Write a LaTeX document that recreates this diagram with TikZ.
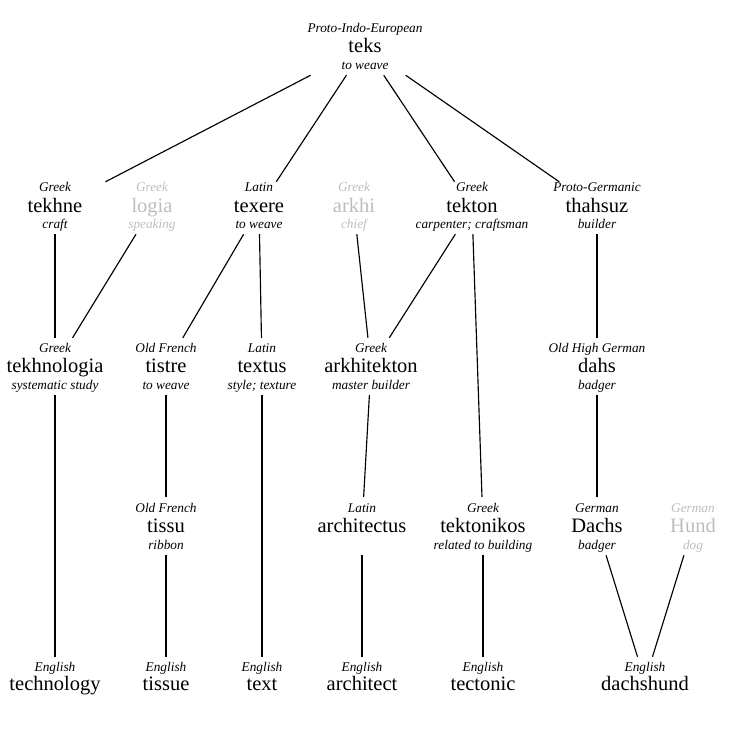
\documentclass[tikz,border=0pt]{standalone}
\usepackage{fontspec}
\setmainfont{Liberation Serif}
\definecolor{faded}{HTML}{BDBDBD}
\tikzset{
  box/.style={draw=none,minimum width=120pt,inner sep=0pt},
  lab/.style={font=\fontsize{13.3}{15}\selectfont\itshape,inner sep=0pt,anchor=base},
  word/.style={font=\fontsize{20.5}{24}\selectfont,inner sep=0pt,anchor=base},
  link/.style={draw=black,line width=1.15pt}
}
% box extent relative to the word row: \bt above, \bb below
\def\bt{28}\def\bb{28}
\newcommand\etymbox[3]{%
  \pgfmathsetmacro\boxc{#3+(\bb-\bt)/2}%
  \pgfmathsetmacro\boxh{\bb+\bt}%
  \node[box,minimum height=\boxh pt] (#1) at (#2,\boxc) {};
}
\newcommand\etym[7]{%
  \etymbox{#1}{#2}{#3}%
  \node[lab,text=#7] (#1-l) at (#2,#3-14) {#4};
  \node[word,text=#7] (#1-w) at (#2,#3+6) {#5};
  \node[lab,text=#7] (#1-g) at (#2,#3+23) {#6};
}
\newcommand\etymend[5]{%
  \etymbox{#1}{#2}{#3}%
  \node[lab,text=#5] (#1-l) at (#2,#3-14) {#4};
  \node[word,text=#5] (#1-w) at (#2,#3+5) {#1};
}
\begin{document}
\begin{tikzpicture}[x=1pt,y=-1pt]
\useasboundingbox (0,0) rectangle (734,733);
% top
\def\bt{28}\def\bb{28}
\etym{teks}{365}{47}{Proto-Indo-European}{teks}{to weave}{black}
% row 1
\def\bt{24}\def\bb{28}
\etym{tekhne}{55}{206}{Greek}{tekhne}{craft}{black}
\etym{logia}{152}{206}{Greek}{logia}{speaking}{faded}
\etym{texere}{259}{206}{Latin}{texere}{to weave}{black}
\etym{arkhi}{354}{206}{Greek}{arkhi}{chief}{faded}
\etym{tekton}{472}{206}{Greek}{tekton}{carpenter; craftsman}{black}
\etym{thahsuz}{597}{206}{Proto-Germanic}{thahsuz}{builder}{black}
% row 2
\def\bt{28}\def\bb{29}
\etym{tekhnologia}{55}{366}{Greek}{tekhnologia}{systematic study}{black}
\etym{tistre}{166}{366}{Old French}{tistre}{to weave}{black}
\etym{textus}{262}{366}{Latin}{textus}{style; texture}{black}
\etym{arkhitekton}{371}{366}{Greek}{arkhitekton}{master builder}{black}
\etym{dahs}{597}{366}{Old High German}{dahs}{badger}{black}
% row 3
\def\bt{29}\def\bb{29}
\etym{tissu}{166}{526}{Old French}{tissu}{ribbon}{black}
\etym{architectus}{362}{526}{Latin}{architectus}{}{black}
\etym{tektonikos}{483}{526}{Greek}{tektonikos}{related to building}{black}
\etym{Dachs}{597}{526}{German}{Dachs}{badger}{black}
\etym{Hund}{693}{526}{German}{Hund}{dog}{faded}
% row 4
\def\bt{28}\def\bb{20}
\etymend{technology}{55}{685}{English}{black}
\etymend{tissue}{166}{685}{English}{black}
\etymend{text}{262}{685}{English}{black}
\etymend{architect}{362}{685}{English}{black}
\etymend{tectonic}{483}{685}{English}{black}
\etymend{dachshund}{645}{685}{English}{black}
% connectors
\draw[link] (teks) -- (tekhne);
\draw[link] (teks) -- (texere);
\draw[link] (teks) -- (tekton);
\draw[link] (teks) -- (thahsuz);
\draw[link] (tekhne) -- (tekhnologia);
\draw[link] (logia) -- (tekhnologia);
\draw[link] (texere) -- (tistre);
\draw[link] (texere) -- (textus);
\draw[link] (arkhi) -- (arkhitekton);
\draw[link] (tekton) -- (arkhitekton);
\draw[link] (tekton) -- (tektonikos);
\draw[link] (thahsuz) -- (dahs);
\draw[link] (tekhnologia) -- (technology);
\draw[link] (tistre) -- (tissu);
\draw[link] (textus) -- (text);
\draw[link] (arkhitekton) -- (architectus);
\draw[link] (tissu) -- (tissue);
\draw[link] (architectus) -- (architect);
\draw[link] (tektonikos) -- (tectonic);
\draw[link] (dahs) -- (Dachs);
\draw[link] (Dachs) -- (dachshund);
\draw[link] (Hund) -- (dachshund);
\end{tikzpicture}
\end{document}
